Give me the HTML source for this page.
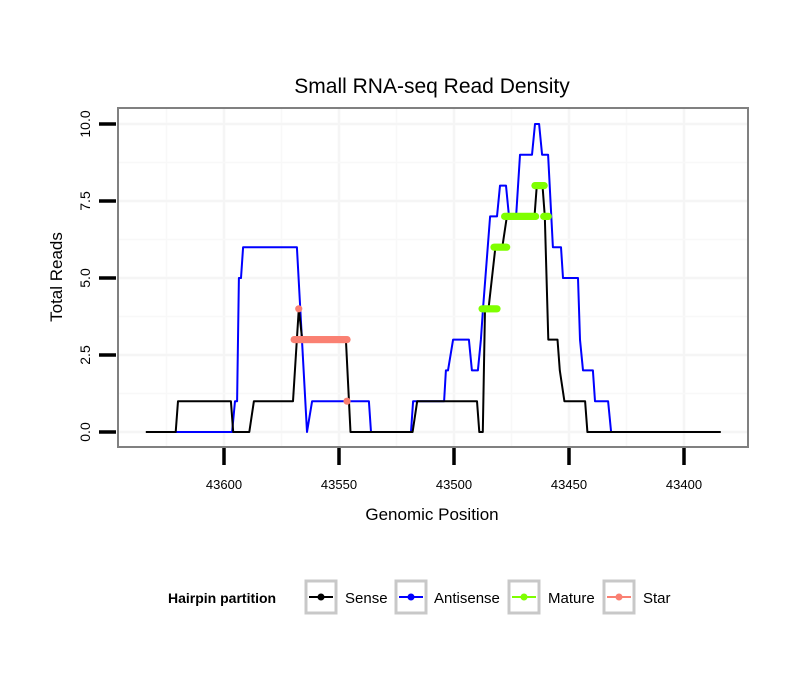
<!DOCTYPE html>
<html><head><meta charset="utf-8"><style>
body{margin:0;background:#fff}
svg{display:block;font-family:"Liberation Sans",Arial,sans-serif}
</style></head><body>
<svg id="chart" width="810" height="690" viewBox="0 0 810 690">
<rect x="0" y="0" width="810" height="690" fill="#fff"/>
<text x="432" y="93" text-anchor="middle" font-size="21" fill="#000">Small RNA-seq Read Density</text>
<g id="grid"></g>
<g id="series"></g>
<rect x="118" y="108" width="630" height="339" fill="none" stroke="#808080" stroke-width="2"/>
<g id="axes"></g>
<text x="432" y="520" text-anchor="middle" font-size="17">Genomic Position</text>
<text transform="translate(62,277) rotate(-90)" text-anchor="middle" font-size="17">Total Reads</text>
<g>
<text x="168" y="603" font-size="14" font-weight="bold">Hairpin partition</text>
<g><rect x="306" y="581" width="30" height="32" fill="none" stroke="#c8c8c8" stroke-width="3"/><line x1="309" y1="597" x2="333" y2="597" stroke="#000" stroke-width="2"/><circle cx="321" cy="597" r="3.5" fill="#000"/><text x="345" y="603" font-size="15">Sense</text></g>
<g><rect x="396" y="581" width="30" height="32" fill="none" stroke="#c8c8c8" stroke-width="3"/><line x1="399" y1="597" x2="423" y2="597" stroke="#0000ff" stroke-width="2"/><circle cx="411" cy="597" r="3.5" fill="#0000ff"/><text x="434" y="603" font-size="15">Antisense</text></g>
<g><rect x="509" y="581" width="30" height="32" fill="none" stroke="#c8c8c8" stroke-width="3"/><line x1="512" y1="597" x2="536" y2="597" stroke="#7fff00" stroke-width="2"/><circle cx="524" cy="597" r="3.5" fill="#7fff00"/><text x="548" y="603" font-size="15">Mature</text></g>
<g><rect x="604" y="581" width="30" height="32" fill="none" stroke="#c8c8c8" stroke-width="3"/><line x1="607" y1="597" x2="631" y2="597" stroke="#fa8072" stroke-width="2"/><circle cx="619" cy="597" r="3.5" fill="#fa8072"/><text x="643" y="603" font-size="15">Star</text></g>
</g>
</svg>
<script>
const xTicks=[43600,43550,43500,43450,43400];
const yTicks=[0,2.5,5,7.5,10];
const yTickLabels=["0.0","2.5","5.0","7.5","10.0"];
const senseX=[43634,43621,43620,43597,43596,43589,43587,43570,43567.5,43566,43547,43545,43518,43516,43490,43489,43487.5,43486.5,43485,43482,43479,43477,43465,43464,43461.5,43460.5,43459,43455,43454,43452,43443,43442,43384];
const senseY=[0,0,1,1,0,0,1,1,4,3,3,0,0,1,1,0,0,4,4,6,6,7,7,8,8,7,3,3,2,1,1,0,0];
const antiX=[43621,43596.5,43595.2,43594.3,43593.5,43592.6,43591.7,43568.3,43563.9,43561.7,43537,43536.1,43518.7,43517.8,43504.3,43503.5,43502.6,43500.4,43493.5,43492.2,43489.6,43488.3,43487.4,43484.3,43481.3,43480,43477.4,43476.1,43473,43471.3,43466.1,43464.8,43463,43461.7,43459.1,43457,43453.5,43452.6,43446.1,43445.2,43443.9,43439.6,43438.7,43433,43431.7];
const antiY=[0,0,1,1,5,5,6,6,0,1,1,0,0,1,1,2,2,3,3,2,2,3,4,7,7,8,8,7,7,9,9,10,10,9,9,6,6,5,5,3,2,2,1,1,0];
// point runs: start position, end position, value
const starStart=[43567.5,43569.5,43546.5];
const starEnd=[43567.5,43546.5,43546.5];
const starVal=[4,3,1];
const matureStart=[43487.8,43482.6,43478,43464.8,43461];
const matureEnd=[43481.3,43477,43464.3,43460.4,43459];
const matureVal=[4,6,7,8,7];

const NS="http://www.w3.org/2000/svg";
const X=p=>224+(43600-p)*2.3;
const Y=v=>432-v*30.8;
function mk(tag,attrs,parent){const e=document.createElementNS(NS,tag);for(const k in attrs)e.setAttribute(k,attrs[k]);parent.appendChild(e);return e;}
const grid=document.getElementById('grid'),axes=document.getElementById('axes'),ser=document.getElementById('series');

xTicks.forEach((t,i)=>{
  let g=mk('line',{x1:X(t),x2:X(t),y1:108,y2:447,stroke:'#f5f5f5','stroke-width':2.5},grid);
  
  
  let m=mk('line',{x1:X(t+25),x2:X(t+25),y1:108,y2:447,stroke:'#f8f8f8','stroke-width':1.5},grid);
  
  
  let tk=mk('line',{x1:X(t),x2:X(t),y1:448,y2:465,stroke:'#000','stroke-width':3.5},axes);
  
  
  let tx=mk('text',{x:X(t),y:489,'text-anchor':'middle','font-size':13},axes);
  tx.textContent=t;
  
  
});
yTicks.forEach((t,i)=>{
  let g=mk('line',{x1:118,x2:748,y1:Y(t),y2:Y(t),stroke:'#f5f5f5','stroke-width':2.5},grid);
  
  
  if(i<yTicks.length-1){let m=mk('line',{x1:118,x2:748,y1:Y(t+1.25),y2:Y(t+1.25),stroke:'#f8f8f8','stroke-width':1.5},grid);
  
  }
  let tk=mk('line',{x1:99,x2:116,y1:Y(t),y2:Y(t),stroke:'#000','stroke-width':3.5},axes);
  
  
  let tx=mk('text',{transform:`translate(${90},${Y(t)}) rotate(-90)`,'text-anchor':'middle','font-size':14},axes);
  tx.textContent=yTickLabels[i];
  
  
});
function line(xs,ys,color,name){
  const d=xs.map((p,i)=>(i?'L':'M')+X(p).toFixed(1)+','+Y(ys[i]).toFixed(1)).join('');
  const e=mk('path',{d:d,fill:'none',stroke:color,'stroke-width':2,'stroke-linejoin':'round'},ser);
  
  
}
function points(st,en,vals,color,name){
  st.forEach((s,i)=>{
    const lo=Math.min(s,en[i]),hi=Math.max(s,en[i]);
    for(let p=hi;p>=lo-0.01;p-=0.5){
      const c=mk('circle',{cx:X(p),cy:Y(vals[i]),r:3.6,fill:color},ser);
      
      
    }
  });
}
line(antiX,antiY,'#0000ff','antisense-line');
line(senseX,senseY,'#000000','sense-line');
points(starStart,starEnd,starVal,'#fa8072','star-point');
points(matureStart,matureEnd,matureVal,'#7fff00','mature-point');
</script>
</body></html>
